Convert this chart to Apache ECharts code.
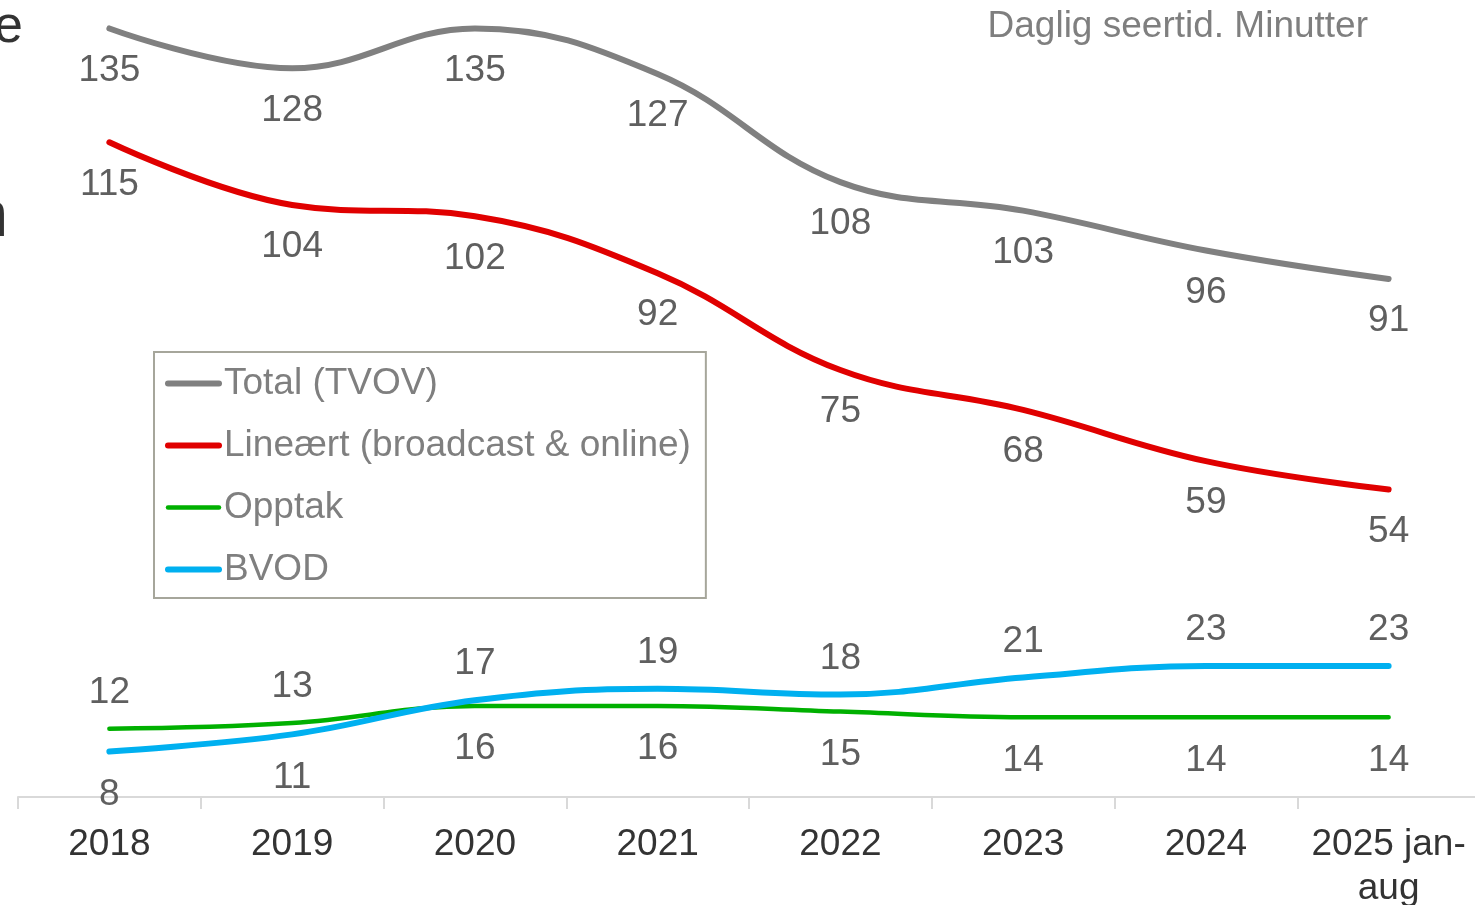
<!DOCTYPE html>
<html>
<head>
<meta charset="utf-8">
<script src="https://cdn.jsdelivr.net/npm/echarts@6/dist/echarts.min.js"></script>
<style>
  html, body { margin: 0; padding: 0; background: #fff; }
  #main { width: 1475px; height: 905px; }
</style>
</head>
<body>
<div id="main"></div>
<script>
// kategorier og serier (minutter per dag)
var years = ['2018', '2019', '2020', '2021', '2022', '2023', '2024', '2025 jan-\naug'];
var total = [135, 128, 135, 127, 108, 103, 96, 91];
var linear = [115, 104, 102, 92, 75, 68, 59, 54];
var opptak = [12, 13, 16, 16, 15, 14, 14, 14];
var bvod = [8, 11, 17, 19, 18, 21, 23, 23];

var FONT = 'Arial, "Liberation Sans", sans-serif';
var labelColor = '#5f5f5f';

// etikett over eller under, avhengig av hvilken linje som ligger høyest
function withLabels(values, other) {
    return values.map(function (v, i) {
        var above = v >= other[i];
        return {
            value: v,
            label: { position: above ? 'top' : 'bottom', distance: above ? 17 : 24 }
        };
    });
}

function lineSeries(name, data, color, width) {
    return {
        name: name,
        type: 'line',
        data: data,
        smooth: 0.4,
        symbol: 'circle',
        symbolSize: 1,
        itemStyle: { color: color },
        lineStyle: { color: color, width: width, cap: 'round' },
        clip: false,
        label: {
            show: true,
            position: 'bottom',
            distance: 23,
            color: labelColor,
            fontSize: 37,
            fontFamily: FONT
        },
        emphasis: { disabled: true }
    };
}

var myChart = echarts.init(document.getElementById('main'));

var option = {
    animation: false,
    title: {
        text: 'Daglig seertid. Minutter',
        right: 102,
        top: 3,
        textStyle: { color: '#7f7f7f', fontSize: 37, fontWeight: 'normal', fontFamily: FONT }
    },
    graphic: [
        // avkuttet tekst i venstre kant
        { type: 'text', right: 1452, top: 2, style: { text: 'e', fontSize: 52, fill: '#333', fontFamily: FONT } },
        { type: 'text', right: 1467, top: 186, style: { text: 'n', fontSize: 64, fill: '#333', fontFamily: FONT } }
    ],
    legend: {
        orient: 'vertical',
        left: 154,
        top: 352,
        padding: [13, 15, 10, 11],
        itemGap: 25,
        itemWidth: 51,
        itemHeight: 14,
        borderColor: '#a6a69b',
        borderWidth: 2,
        itemStyle: { opacity: 0 },
        lineStyle: { width: 6, cap: 'round' },
        textStyle: { color: '#7f7f7f', fontSize: 37, fontFamily: FONT },
        data: [
            { name: 'Total (TVOV)' },
            { name: 'Lineært (broadcast & online)' },
            { name: 'Opptak', lineStyle: { width: 4.5 } },
            { name: 'BVOD' }
        ]
    },
    grid: { left: 18, width: 1462, top: 0, bottom: 108, outerBoundsMode: 'none', containLabel: false },
    xAxis: {
        type: 'category',
        data: years,
        boundaryGap: true,
        axisLine: { show: true, lineStyle: { color: '#d9d9d9', width: 2 } },
        axisTick: { show: true, alignWithLabel: false, interval: 0, length: 12, lineStyle: { color: '#d9d9d9', width: 2 } },
        axisLabel: { color: '#333', fontSize: 37, fontFamily: FONT, margin: 26, lineHeight: 44, interval: 0 }
    },
    yAxis: { type: 'value', min: 0, max: 140, show: false, splitLine: { show: false } },
    series: [
        lineSeries('Total (TVOV)', total, '#808080', 6),
        lineSeries('Lineært (broadcast & online)', linear, '#e00000', 6),
        lineSeries('Opptak', withLabels(opptak, bvod), '#00b000', 4.5),
        lineSeries('BVOD', withLabels(bvod, opptak), '#00b0f0', 6)
    ]
};

myChart.setOption(option);
</script>
</body>
</html>
